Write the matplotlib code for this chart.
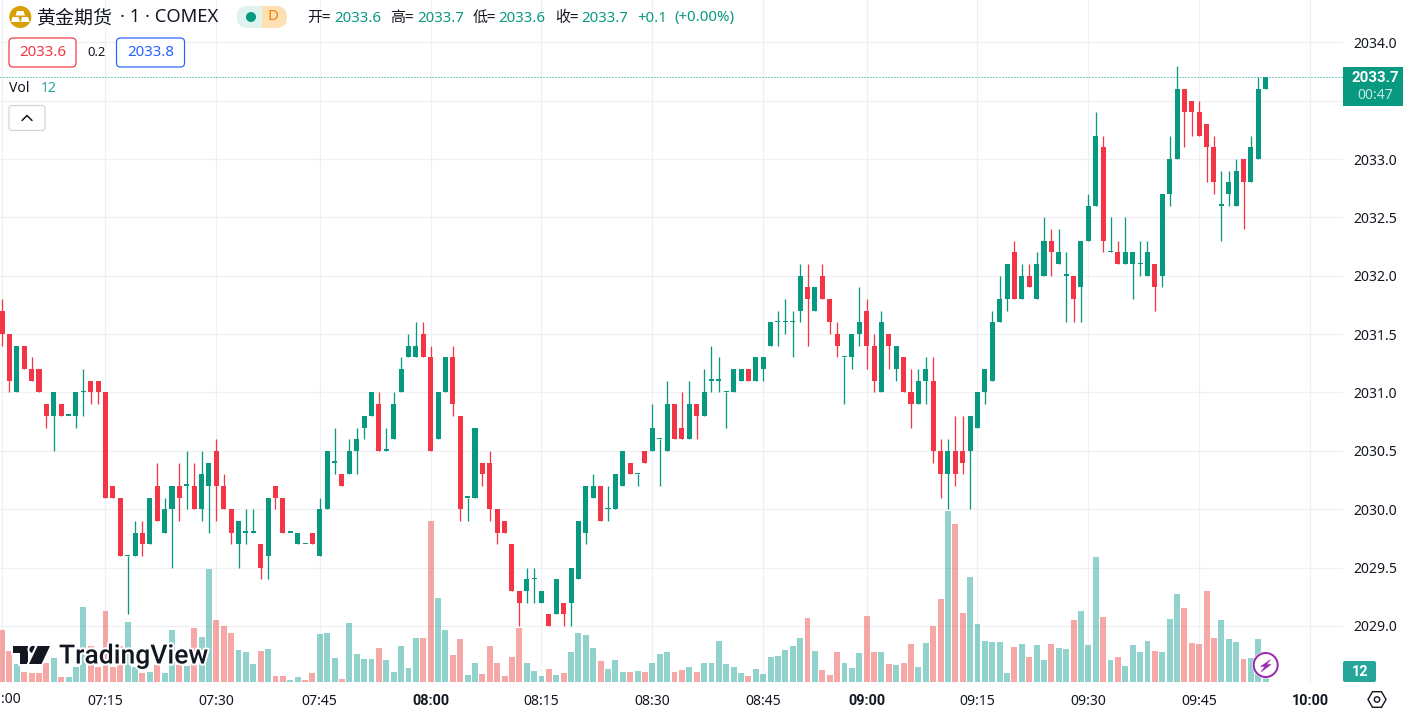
import math
import matplotlib
matplotlib.use("Agg")
import matplotlib.pyplot as plt
import matplotlib.patheffects as pe
from matplotlib.patches import FancyBboxPatch, Circle, Polygon, Rectangle, RegularPolygon

opens = [
2031.7,2031.5,2031.0,2031.4,2031.2,2031.2,2030.9,2030.8,2030.9,2030.8,
2030.8,2031.0,2031.1,2031.1,2031.0,2030.2,2030.1,2029.6,2029.6,2029.8,
2029.7,2030.2,2029.8,2030.0,2030.2,2030.2,2030.2,2030.0,2030.2,2030.5,
2030.2,2030.0,2029.7,2029.8,2029.8,2029.7,2029.6,2030.2,2030.1,2029.8,
2029.7,2029.7,2029.8,2029.6,2030.0,2030.4,2030.3,2030.3,2030.5,2030.7,
2030.8,2030.9,2030.5,2030.6,2031.0,2031.3,2031.3,2031.5,2031.3,2030.6,
2031.0,2031.3,2030.8,2030.1,2030.1,2030.4,2030.4,2030.0,2029.9,2029.7,
2029.3,2029.3,2029.4,2029.2,2029.1,2029.1,2029.2,2029.2,2029.4,2029.8,
2030.1,2030.2,2030.0,2030.0,2030.2,2030.4,2030.3,2030.5,2030.5,2030.6,
2030.5,2030.9,2030.7,2030.6,2030.9,2030.8,2031.1,2031.1,2031.0,2031.0,
2031.1,2031.2,2031.1,2031.2,2031.4,2031.6,2031.6,2031.6,2031.7,2031.9,
2031.7,2032.0,2031.8,2031.5,2031.3,2031.3,2031.5,2031.7,2031.4,2031.0,
2031.5,2031.2,2031.3,2031.0,2030.9,2031.1,2031.1,2030.5,2030.3,2030.5,
2030.5,2030.5,2030.7,2031.0,2031.1,2031.6,2031.8,2032.2,2031.8,2032.0,
2031.8,2032.0,2032.3,2032.1,2032.0,2032.0,2031.9,2032.3,2032.6,2033.1,
2032.2,2032.2,2032.1,2032.1,2032.1,2032.0,2032.1,2032.0,2032.7,2033.0,
2033.6,2033.5,2033.4,2033.3,2033.1,2032.6,2032.7,2032.6,2033.0,2032.8,
2033.0,2033.6]
closes = [
2031.5,2031.1,2031.4,2031.2,2031.1,2031.0,2030.8,2031.0,2030.8,2030.8,
2031.0,2031.0,2031.0,2031.0,2030.1,2030.1,2029.6,2029.6,2029.8,2029.7,
2030.1,2029.9,2030.0,2030.2,2030.1,2030.2,2030.0,2030.3,2030.4,2030.2,
2030.0,2029.8,2029.9,2029.8,2029.8,2029.5,2030.1,2030.1,2029.8,2029.8,
2029.8,2029.7,2029.7,2030.0,2030.5,2030.4,2030.2,2030.5,2030.6,2030.8,
2031.0,2030.5,2030.5,2030.9,2031.2,2031.4,2031.4,2031.3,2030.5,2031.0,
2031.3,2030.9,2030.0,2030.1,2030.7,2030.3,2030.0,2029.8,2029.8,2029.3,
2029.2,2029.4,2029.4,2029.3,2029.0,2029.4,2029.1,2029.5,2029.9,2030.2,
2030.2,2029.9,2030.0,2030.3,2030.5,2030.3,2030.3,2030.4,2030.7,2030.6,
2030.9,2030.6,2030.6,2030.9,2030.8,2031.0,2031.1,2031.1,2031.0,2031.2,
2031.2,2031.1,2031.3,2031.3,2031.6,2031.6,2031.6,2031.6,2032.0,2031.8,
2031.9,2031.8,2031.6,2031.4,2031.3,2031.5,2031.6,2031.4,2031.1,2031.6,
2031.4,2031.4,2031.0,2030.9,2031.1,2031.2,2030.5,2030.3,2030.5,2030.3,
2030.4,2030.8,2031.0,2031.2,2031.6,2031.8,2032.1,2031.8,2032.0,2031.9,
2032.1,2032.3,2032.2,2032.2,2032.0,2031.8,2032.3,2032.6,2033.2,2032.3,
2032.2,2032.1,2032.2,2032.2,2032.1,2032.2,2031.9,2032.7,2033.0,2033.6,
2033.4,2033.4,2033.2,2033.1,2032.8,2032.6,2032.8,2032.9,2032.8,2033.1,
2033.6,2033.7]
highs = [
2031.8,2031.5,2031.4,2031.4,2031.3,2031.2,2030.9,2031.0,2030.9,2030.8,
2031.0,2031.2,2031.1,2031.1,2031.0,2030.2,2030.1,2029.6,2029.9,2029.9,
2030.1,2030.4,2030.1,2030.2,2030.4,2030.5,2030.4,2030.5,2030.4,2030.6,
2030.3,2030.0,2029.9,2030.0,2030.0,2029.7,2030.1,2030.2,2030.1,2029.8,
2029.8,2029.7,2029.8,2030.1,2030.5,2030.7,2030.3,2030.6,2030.7,2030.8,
2031.0,2031.0,2030.7,2031.0,2031.3,2031.5,2031.6,2031.6,2031.4,2031.0,
2031.3,2031.4,2030.8,2030.1,2030.7,2030.4,2030.5,2030.0,2029.9,2029.7,
2029.3,2029.5,2029.5,2029.3,2029.1,2029.4,2029.2,2029.5,2029.9,2030.2,
2030.3,2030.2,2030.2,2030.3,2030.5,2030.4,2030.3,2030.5,2030.9,2030.6,
2031.1,2030.9,2031.0,2031.1,2030.9,2031.2,2031.4,2031.3,2031.0,2031.2,
2031.2,2031.2,2031.3,2031.3,2031.6,2031.7,2031.8,2031.7,2032.1,2032.1,
2031.9,2032.1,2031.8,2031.6,2031.3,2031.5,2031.9,2031.8,2031.5,2031.7,
2031.5,2031.4,2031.3,2031.2,2031.2,2031.3,2031.3,2030.6,2030.6,2030.8,
2030.8,2030.8,2031.0,2031.2,2031.7,2032.0,2032.1,2032.3,2032.1,2032.1,
2032.2,2032.5,2032.4,2032.4,2032.2,2032.0,2032.3,2032.7,2033.4,2033.2,
2032.5,2032.3,2032.5,2032.2,2032.3,2032.3,2032.1,2032.7,2033.2,2033.8,
2033.6,2033.5,2033.5,2033.3,2033.2,2032.9,2032.9,2033.0,2033.0,2033.2,
2033.7,2033.7]
lows = [
2031.4,2031.0,2031.0,2031.2,2031.1,2031.0,2030.7,2030.5,2030.8,2030.8,
2030.7,2030.8,2030.9,2030.9,2030.1,2030.1,2029.6,2029.1,2029.6,2029.6,
2029.7,2029.9,2029.8,2029.5,2029.9,2030.0,2030.0,2029.9,2029.8,2029.9,
2030.0,2029.7,2029.5,2029.7,2029.8,2029.4,2029.4,2030.0,2029.8,2029.8,
2029.7,2029.7,2029.7,2029.6,2030.0,2030.3,2030.2,2030.3,2030.3,2030.6,
2030.8,2030.5,2030.5,2030.6,2031.0,2031.3,2031.3,2031.3,2030.5,2030.6,
2031.0,2030.8,2029.9,2029.9,2030.1,2030.2,2029.9,2029.7,2029.8,2029.3,
2029.0,2029.2,2029.2,2029.2,2029.0,2029.1,2029.0,2029.0,2029.4,2029.7,
2030.1,2029.9,2029.9,2030.0,2030.2,2030.3,2030.2,2030.4,2030.5,2030.2,
2030.5,2030.6,2030.6,2030.6,2030.6,2030.8,2031.0,2031.0,2030.7,2031.0,
2031.1,2031.1,2031.1,2031.1,2031.4,2031.4,2031.5,2031.3,2031.6,2031.4,
2031.7,2031.8,2031.5,2031.3,2030.9,2031.2,2031.4,2031.2,2031.0,2031.0,
2031.2,2031.1,2031.0,2030.7,2030.9,2030.9,2030.4,2030.1,2030.0,2030.2,
2030.3,2030.0,2030.7,2030.9,2031.1,2031.6,2031.7,2031.8,2031.8,2031.9,
2031.8,2032.0,2032.0,2032.1,2031.6,2031.6,2031.6,2032.3,2032.6,2032.2,
2032.2,2032.1,2032.1,2031.8,2032.0,2032.0,2031.7,2031.9,2032.6,2033.0,
2033.1,2033.2,2033.2,2032.8,2032.7,2032.3,2032.6,2032.6,2032.4,2032.8,
2033.0,2033.6]
volumes = [
52,31,18,10,9,9,19,24,5,5,15,75,36,15,71,15,36,60,15,9,
10,17,9,52,17,16,54,45,113,62,56,49,32,30,18,31,33,6,6,2,
5,2,9,48,49,24,3,59,28,23,23,34,22,10,36,14,44,44,161,84,
52,27,43,7,19,8,36,19,6,25,54,19,11,6,13,7,9,30,49,47,
34,21,13,22,10,10,11,10,19,28,30,10,12,15,10,19,19,41,18,15,
9,6,13,8,25,26,32,36,44,64,31,12,7,30,19,14,29,66,30,30,
18,17,19,38,15,39,56,83,171,158,69,105,58,41,40,40,9,35,38,25,
37,22,38,34,33,62,71,37,125,65,22,25,16,37,30,41,31,30,63,88,
74,39,38,91,44,62,43,40,23,24,43,12]
vol_down_dojis = [41]          # unchanged candles whose volume bar is red

tick_bars = [14, 29, 43, 58, 73, 88, 103, 117, 132, 147, 162, 177]
tick_labels = ["07:15", "07:30", "07:45", "08:00", "08:15", "08:30",
               "08:45", "09:00", "09:15", "09:30", "09:45", "10:00"]
bold_labels = ["08:00", "09:00", "10:00"]
first_tick_bar = 0
first_tick_label = ":00"
price_ticks = [2029.0, 2029.5, 2030.0, 2030.5, 2031.0, 2031.5,
               2032.0, 2032.5, 2033.0, 2033.5, 2034.0]
hidden_price_tick = 2033.5

GREEN, RED = "#089981", "#F23645"
VGREEN, VRED = "#26A69A", "#EF5350"
GRID, INK = "#EFF0F3", "#131722"
W, H = 1403, 711
AX_R, AX_B = 1343, 682
px = 72 / 100            # points per pixel
FONT = ["Noto Sans", "DejaVu Sans"]
BOLD = ["Roboto", "DejaVu Sans"]
CJK = ["Noto Sans CJK SC", "DejaVu Sans"]
plt.rcParams["font.family"] = FONT

fig = plt.figure(figsize=(W / 100, H / 100), dpi=100, facecolor="white")
rect = [0, 1 - AX_B / H, AX_R / W, AX_B / H]
ax = fig.add_axes(rect)
ax.set_facecolor("white")
for s in ax.spines.values():
    s.set_visible(False)
ax.set_xlim(-0.276, 181.46)
ax.set_ylim(2028.520, 2034.362)
ax.set_axisbelow(True)
ax.grid(True, color=GRID, lw=1.2 * px)
ax.yaxis.tick_right()
ax.set_yticks(price_ticks)
ax.set_yticklabels(["" if p == hidden_price_tick else f"{p:.1f}" for p in price_ticks],
                   fontsize=14 * px, color=INK)
ax.set_xticks([first_tick_bar] + tick_bars)
ax.set_xticklabels([""] + tick_labels, fontsize=14 * px, color=INK)
for lab in ax.get_xticklabels():
    if lab.get_text() in bold_labels:
        lab.set_fontweight("bold")
        lab.set_family(BOLD)
        lab.set_fontsize(14.5 * px)
ax.tick_params(axis="y", length=0, pad=10 * px)
ax.tick_params(axis="x", length=0, pad=12 * px)

# volume pane: one unit of volume is one pixel above the bottom edge
vax = fig.add_axes(rect, facecolor="none", sharex=ax)
vax.set_ylim(0, AX_B)
vax.axis("off")
idx = list(range(len(opens)))
vcol = [VRED if (c < o or i in vol_down_dojis) else VGREEN
        for i, o, c in zip(idx, opens, closes)]
vax.bar(idx, volumes, width=0.8, color=vcol, alpha=0.5, linewidth=0, zorder=1)

# candles, drawn above the volume
cax = fig.add_axes(rect, facecolor="none", sharex=ax)
cax.set_ylim(ax.get_ylim())
cax.axis("off")
col = [RED if c < o else GREEN for o, c in zip(opens, closes)]
cax.vlines(idx, lows, highs, colors=col, lw=1.3 * px, zorder=2)
bottoms = [min(o, c) for o, c in zip(opens, closes)]
sizes = [max(abs(o - c), 0.012) for o, c in zip(opens, closes)]
cax.bar(idx, sizes, bottom=bottoms, width=0.68, color=col, linewidth=0, zorder=3)
cax.axhline(closes[-1], color=GREEN, lw=1 * px, ls=(0, (1, 2)), zorder=4)

# overlay in pixel coordinates for the chart furniture
ov = fig.add_axes([0, 0, 1, 1], facecolor="none")
ov.set_xlim(0, W)
ov.set_ylim(H, 0)
ov.axis("off")


def txt(x, y, s, size=14, color=INK, ha="left", va="center", family=FONT, **kw):
    return ov.text(x, y, s, fontsize=size * px, color=color, ha=ha, va=va, family=family, **kw)


def rbox(x, y, w, h, fc="white", ec="none", r=3, lw=1.0):
    p = FancyBboxPatch((x + r, y + r), w - 2 * r, h - 2 * r, boxstyle=f"round,pad={r},rounding_size={r}",
                       fc=fc, ec=ec, lw=lw * px)
    ov.add_patch(p)
    return p


txt(21, 699.5, first_tick_label, ha="right")

# header
ov.add_patch(Circle((20.3, 17), 11, fc="#D99E06", ec="none"))
for pts in ([(17, 11), (23.5, 11), (25, 15.5), (15.5, 15.5)],
            [(12.5, 17), (18.5, 17), (20, 22), (11, 22)],
            [(22, 17), (28, 17), (29.5, 22), (20.5, 22)]):
    ov.add_patch(Polygon(pts, closed=True, fc="white", ec="none"))
txt(37, 17.5, "黄金期货", size=19, family=CJK)
txt(120, 17.5, "· 1 · COMEX", size=18.4)
rbox(237, 6, 50, 22, fc="#FFE0B2", r=11)
left = rbox(237, 6, 50, 22, fc="#DFF3EF", r=11)
left.set_clip_path(Rectangle((237, 6), 25, 22, transform=ov.transData))
ov.add_patch(Circle((251, 17), 5, fc=GREEN, ec="none"))
txt(273, 17, "D", size=15, color="#F57C00", ha="center")

for x, s, c in [(307, "开=", INK), (334, "2033.6", GREEN), (390, "高=", INK), (417, "2033.7", GREEN),
                (473, "低=", INK), (498, "2033.6", GREEN), (555, "收=", INK), (581, "2033.7", GREEN),
                (637, "+0.1", GREEN), (674, "(+0.00%)", GREEN)]:
    txt(x, 18, s, size=15, color=c, family=CJK if ord(s[0]) > 255 else FONT)

rbox(9, 38, 67, 29, ec=RED, r=4, lw=1.2)
txt(42.5, 52.5, "2033.6", size=15, color=RED, ha="center")
txt(96, 52.5, "0.2", size=13, ha="center")
rbox(116.5, 38, 68, 29, ec="#2962FF", r=4, lw=1.2)
txt(150.5, 52.5, "2033.8", size=15, color="#2962FF", ha="center")

txt(9, 88, "Vol", size=14)
txt(41, 88, "12", size=14, color=VGREEN)
rbox(9, 105.5, 36, 25, ec="#D1D4DC", r=3, lw=1.2)
ov.plot([22, 27, 32], [120.5, 115.5, 120.5], color=INK, lw=1.5 * px, solid_capstyle="round")

# right-hand labels
ov.add_patch(Rectangle((1343, 67), 60, 39, fc=GREEN, ec="none"))
txt(1375, 78, "2033.7", size=15, color="white", ha="center", family=BOLD, fontweight="bold")
txt(1375, 95.5, "00:47", size=14, color="#C4E6E0", ha="center")
rbox(1343, 661, 33, 21, fc=VGREEN, r=2)
txt(1360, 672, "12", size=14.5, color="white", ha="center", family=BOLD, fontweight="bold")

# settings hexagon
ov.add_patch(RegularPolygon((1377, 699.5), 6, radius=9, orientation=math.pi / 6,
                            fc="white", ec=INK, lw=1.4 * px))
ov.add_patch(Circle((1377, 699.5), 2.7, fc="white", ec=INK, lw=1.4 * px))

# lightning badge
ov.add_patch(Circle((1265.7, 665), 13.5, fc="white", ec="none"))
ov.add_patch(Circle((1265.7, 665), 12, fc="white", ec="#9C27B0", lw=2 * px))
ov.add_patch(Polygon([(1270.7, 659.5), (1260.7, 666.5), (1265, 666.5), (1261, 672),
                      (1271, 664.5), (1266.5, 664.5)], closed=True, fc="#9C27B0", ec="#9C27B0", lw=0.5 * px))

# TradingView watermark
halo = [pe.Stroke(linewidth=4 * px, foreground="white"), pe.Normal()]
for art in (Polygon([(13, 646), (28, 646), (28, 664), (20, 664), (20, 653), (13, 653)], closed=True, fc=INK, ec="none"),
            Circle((33, 649.5), 3.6, fc=INK, ec="none"),
            Polygon([(37.5, 646), (50, 646), (41.5, 664), (29, 664)], closed=True, fc=INK, ec="none")):
    art.set_path_effects(halo)
    ov.add_patch(art)
txt(59, 656, "TradingView", size=26.5, family=["Roboto", "DejaVu Sans"], fontweight="medium",
    path_effects=halo)

fig.savefig("out.png", dpi=100, facecolor="white")
